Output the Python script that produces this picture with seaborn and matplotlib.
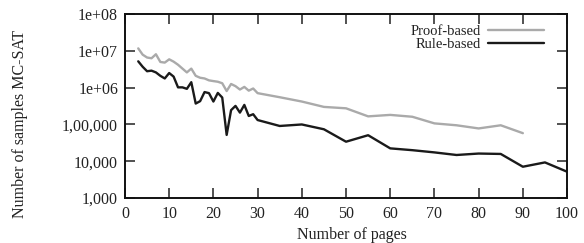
import matplotlib
matplotlib.use("Agg")
import matplotlib.pyplot as plt
import matplotlib.ticker as mticker
import seaborn as sns
import pandas as pd

pages_proof = [3, 4, 5, 6, 7, 8, 9, 10, 11, 12, 13, 14, 15, 16, 17, 18, 19, 20,
               21, 22, 23, 24, 25, 26, 27, 28, 29, 30, 35, 40, 45, 50, 55, 60,
               65, 70, 75, 80, 85, 90]
samples_proof = [1.17e7, 7.9e6, 6.6e6, 6.3e6, 8.1e6, 5.0e6, 4.8e6, 5.9e6, 5.1e6,
                 4.2e6, 3.3e6, 2.6e6, 3.3e6, 2.1e6, 1.86e6, 1.78e6, 1.58e6,
                 1.51e6, 1.45e6, 1.32e6, 8.1e5, 1.26e6, 1.10e6, 8.9e5, 1.05e6,
                 8.3e5, 9.5e5, 7.1e5, 5.5e5, 4.2e5, 3.0e5, 2.75e5, 1.66e5,
                 1.82e5, 1.62e5, 1.07e5, 9.5e4, 7.8e4, 9.5e4, 5.8e4]

pages_rule = [3, 4, 5, 6, 7, 8, 9, 10, 11, 12, 13, 14, 15, 16, 17, 18, 19, 20,
              21, 22, 23, 24, 25, 26, 27, 28, 29, 30, 35, 40, 45, 50, 55, 60,
              65, 70, 75, 80, 85, 90, 95, 100]
samples_rule = [5.2e6, 3.7e6, 2.8e6, 2.9e6, 2.6e6, 2.1e6, 1.78e6, 2.5e6, 2.0e6,
                1.02e6, 1.02e6, 9.3e5, 1.41e6, 3.7e5, 4.3e5, 7.6e5, 7.1e5,
                4.2e5, 7.2e5, 5.4e5, 5.2e4, 2.45e5, 3.2e5, 2.1e5, 3.4e5,
                1.7e5, 1.9e5, 1.32e5, 9.1e4, 1.0e5, 7.4e4, 3.4e4, 5.1e4,
                2.24e4, 2.0e4, 1.74e4, 1.48e4, 1.62e4, 1.58e4, 7.1e3, 9.3e3,
                5.2e3]

series_names = ["Proof-based", "Rule-based"]
y_tick_values = [1e3, 1e4, 1e5, 1e6, 1e7, 1e8]
y_tick_labels = ["1,000", "10,000", "1,00,000", "1e+06", "1e+07", "1e+08"]
x_ticks = [0, 10, 20, 30, 40, 50, 60, 70, 80, 90, 100]

df = pd.concat([
    pd.DataFrame({"pages": pages_proof, "samples": samples_proof, "method": series_names[0]}),
    pd.DataFrame({"pages": pages_rule, "samples": samples_rule, "method": series_names[1]}),
], ignore_index=True)

sns.set_theme(style="ticks")
plt.rcParams["font.family"] = ["Liberation Serif", "DejaVu Serif"]

fig = plt.figure(figsize=(5.84, 2.43), dpi=100)
ax = fig.add_axes([0.214, 0.185, 0.757, 0.757])

sns.lineplot(data=df, x="pages", y="samples", hue="method",
             palette={series_names[0]: "#aaaaaa", series_names[1]: "#1a1a1a"},
             linewidth=1.7, ax=ax, sort=False, estimator=None)

ax.set_yscale("log")
ax.set_xlim(0, 100)
ax.set_ylim(1e3, 1e8)
ax.xaxis.set_major_locator(mticker.FixedLocator(x_ticks))
ax.set_xticklabels([str(t) for t in x_ticks])
ax.yaxis.set_major_locator(mticker.FixedLocator(y_tick_values))
ax.set_yticklabels(y_tick_labels)
ax.yaxis.set_minor_locator(mticker.LogLocator(base=10, subs=[2.0, 5.0, 8.0]))
ax.yaxis.set_minor_formatter(mticker.NullFormatter())
ax.xaxis.set_minor_locator(mticker.NullLocator())

ax.tick_params(axis="both", which="major", direction="in", length=7, width=1.1,
               top=True, right=True, labelsize=11.5, colors="#222222")
ax.tick_params(axis="y", which="major", pad=5)
ax.tick_params(axis="x", which="major", pad=6)
ax.tick_params(axis="y", which="minor", direction="in", length=3.5, width=1.0,
               left=True, right=True)
for s in ax.spines.values():
    s.set_linewidth(1.4)
    s.set_color("#111111")

ax.set_xlabel("Number of pages", fontsize=11.5, color="#222222")
ax.xaxis.set_label_coords(0.514, -0.155)
ax.xaxis.label.set_va("top")
ax.set_ylabel("Number of samples MC-SAT", fontsize=11.5, color="#222222")
ax.yaxis.set_label_coords(-0.22, 0.40)

leg = ax.legend(frameon=False, loc="upper right", bbox_to_anchor=(0.967, 0.99),
                markerfirst=False, handlelength=3.8, fontsize=10.5,
                labelspacing=0.0, handletextpad=0.5, borderaxespad=0.2)
for t in leg.get_texts():
    t.set_color("#222222")
for h in leg.get_lines():
    h.set_linewidth(1.7)

fig.savefig("out.png", dpi=100)
